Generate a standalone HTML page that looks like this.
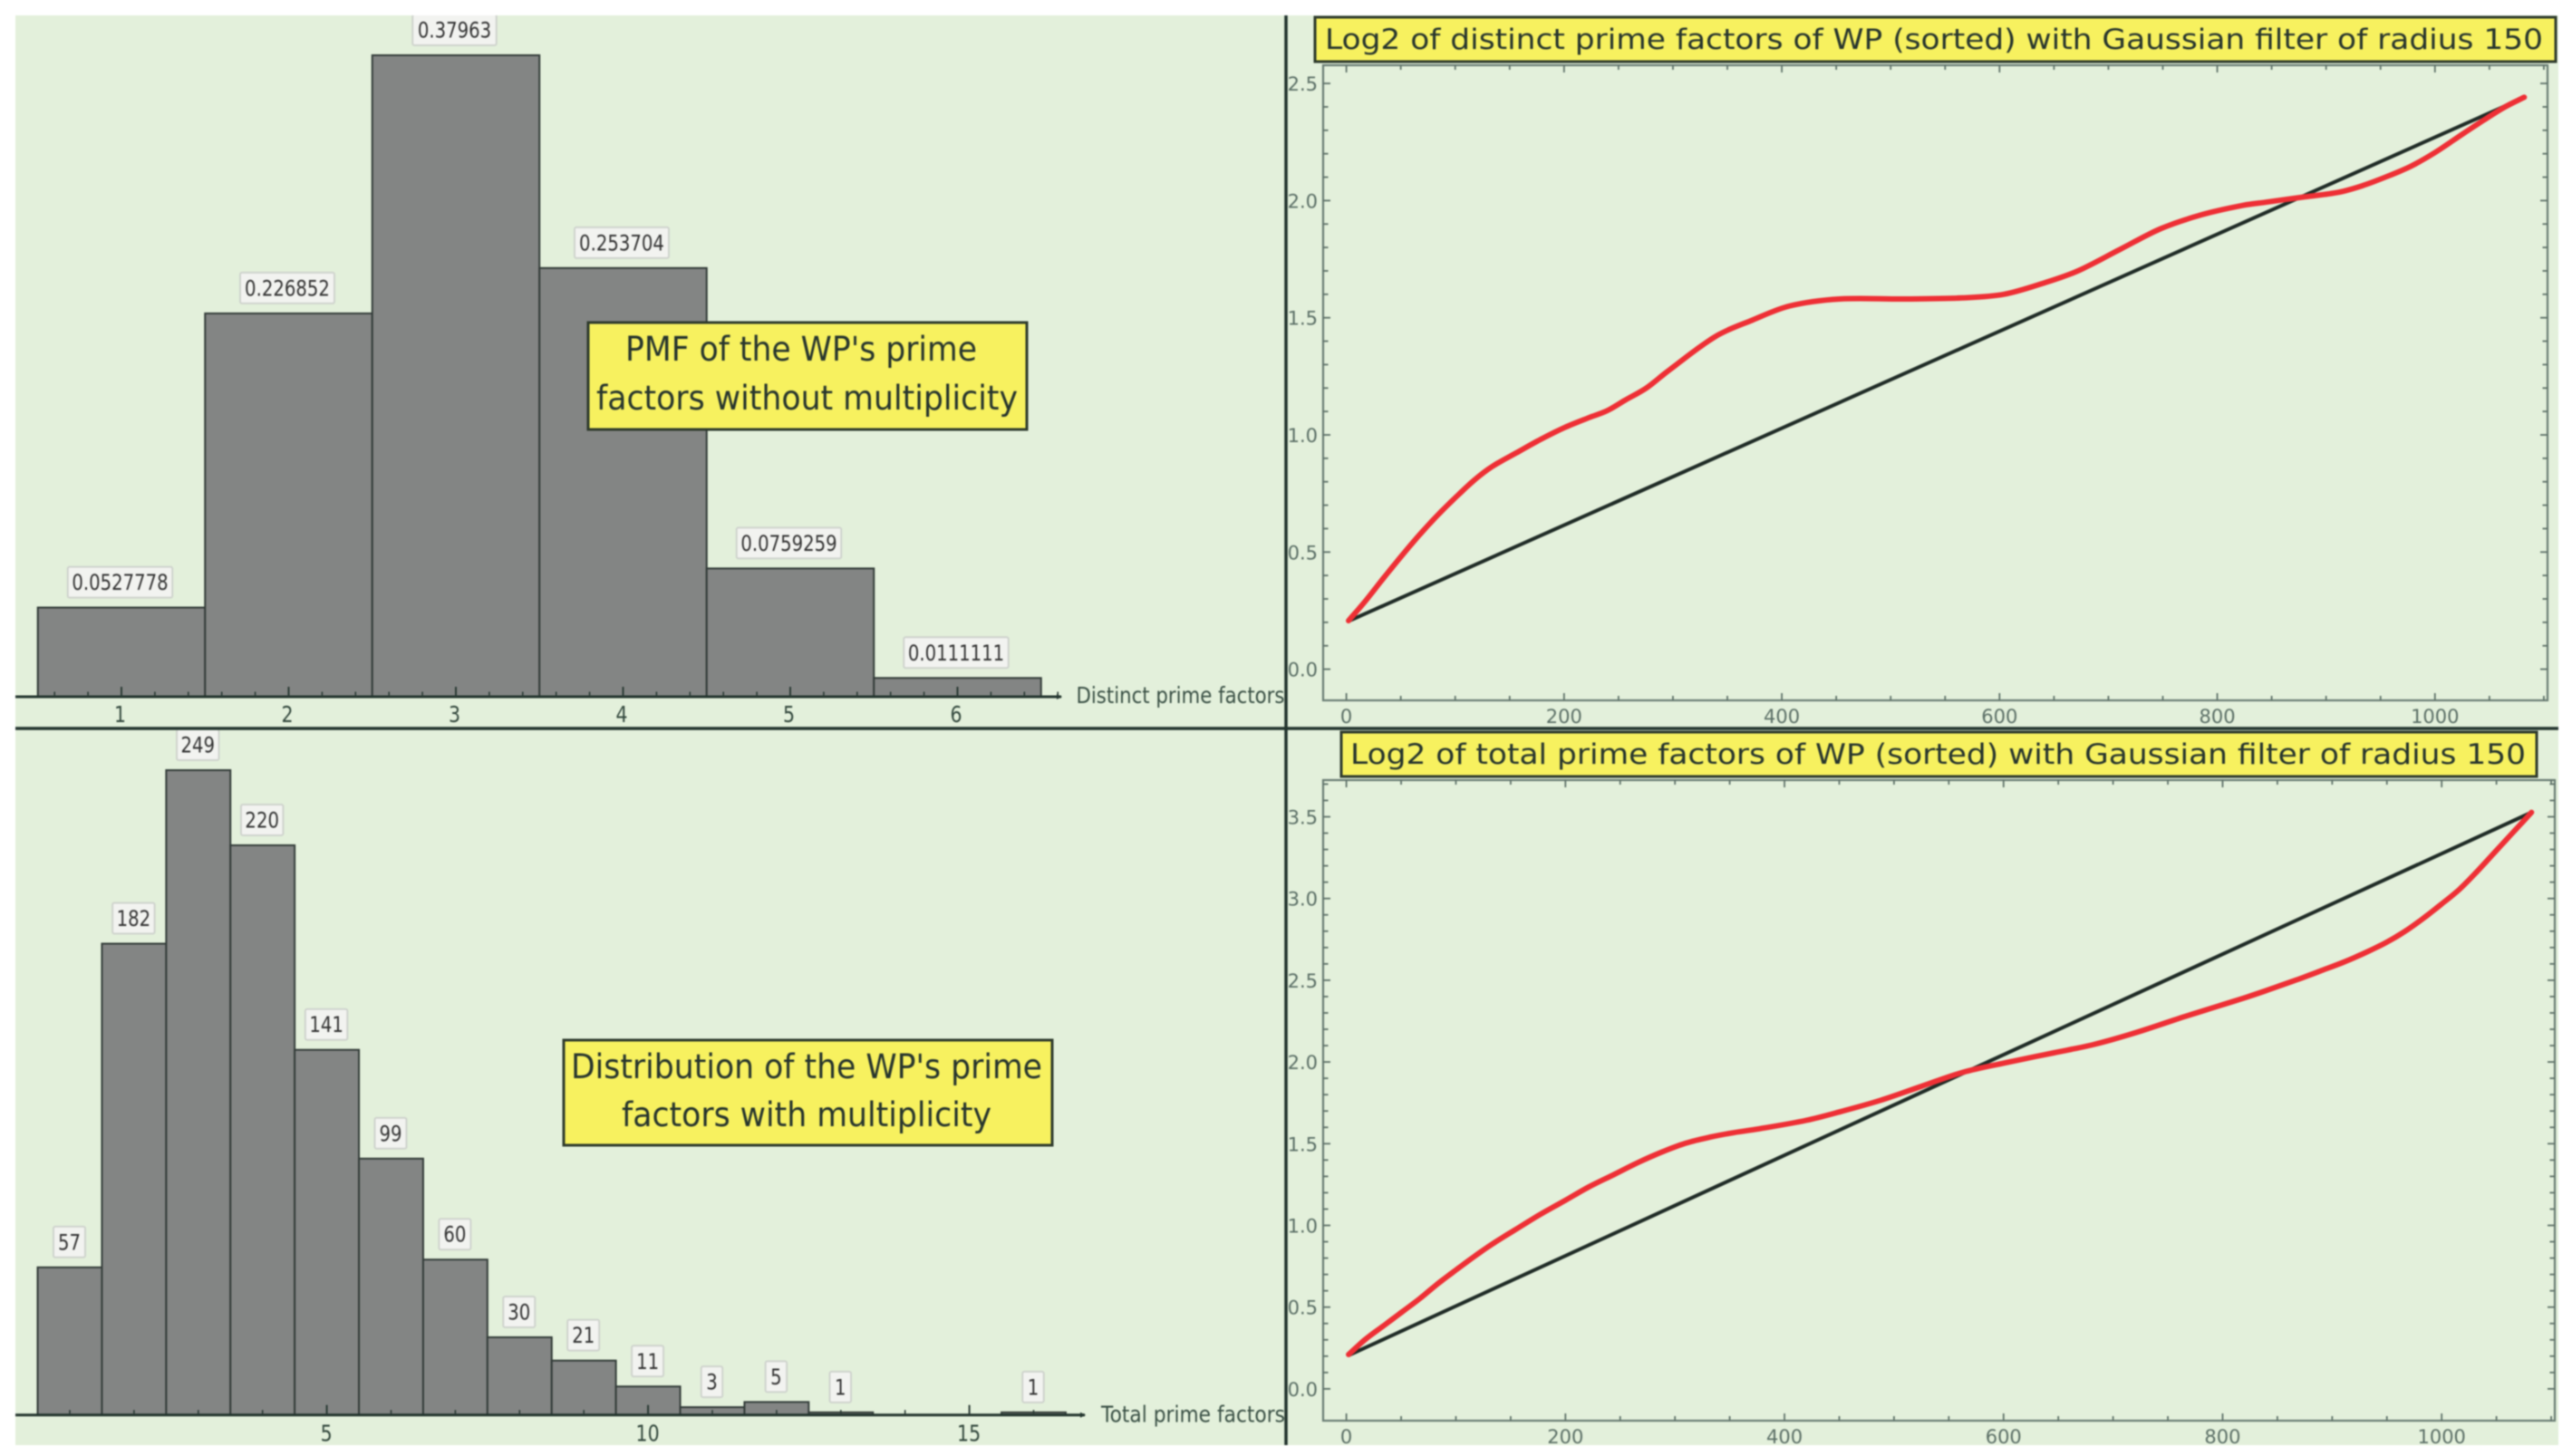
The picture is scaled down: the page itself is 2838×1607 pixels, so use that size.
<!DOCTYPE html>
<html lang="en">
<head>
<meta charset="utf-8">
<title>Prime factor distributions</title>
<style>
html,body{margin:0;padding:0;background:#fff;width:2838px;height:1607px;overflow:hidden}
svg{display:block;filter:blur(0.7px)}
text{font-family:"DejaVu Sans","Liberation Sans",sans-serif}
</style>
</head>
<body>
<svg id="root" xmlns="http://www.w3.org/2000/svg" width="2838" height="1607" viewBox="0 0 2838 1607">
  <defs>
    <clipPath id="clipTop"><rect x="17" y="17" width="1402" height="785"/></clipPath>
    <clipPath id="clipBottom"><rect x="17" y="806" width="1402" height="789"/></clipPath>
  </defs>
  <rect x="17" y="17" width="2806" height="1578" fill="#e3f0db"/>

  <g id="pmfChart" clip-path="url(#clipTop)"></g>
  <g id="totalChart" clip-path="url(#clipBottom)"></g>

  <g>
    <rect x="649" y="356" width="484" height="118" fill="#f7f15f" stroke="#2e3a2c" stroke-width="3"/>
    <text x="690" y="398" font-size="37" fill="#27352d" textLength="388" lengthAdjust="spacingAndGlyphs">PMF of the WP's prime</text>
    <text x="658" y="452" font-size="37" fill="#27352d" textLength="465" lengthAdjust="spacingAndGlyphs">factors without multiplicity</text>
  </g>
  <g>
    <rect x="622" y="1148" width="539" height="116" fill="#f7f15f" stroke="#2e3a2c" stroke-width="3"/>
    <text x="630" y="1190" font-size="37" fill="#27352d" textLength="520" lengthAdjust="spacingAndGlyphs">Distribution of the WP's prime</text>
    <text x="686" y="1243" font-size="37" fill="#27352d" textLength="408" lengthAdjust="spacingAndGlyphs">factors with multiplicity</text>
  </g>

  <g id="distinctChart"></g>
  <g id="totalLineChart"></g>

  <g>
    <rect x="1451" y="19" width="1369" height="49" fill="#f7f15f" stroke="#2e3a2c" stroke-width="3"/>
    <text x="1462" y="54" font-size="31" fill="#27352d" textLength="1344" lengthAdjust="spacingAndGlyphs">Log2 of distinct prime factors of WP (sorted) with Gaussian filter of radius 150</text>
  </g>
  <g>
    <rect x="1480" y="808" width="1319" height="49" fill="#f7f15f" stroke="#2e3a2c" stroke-width="3"/>
    <text x="1490" y="843" font-size="31" fill="#27352d" textLength="1297" lengthAdjust="spacingAndGlyphs">Log2 of total prime factors of WP (sorted) with Gaussian filter of radius 150</text>
  </g>

  <line x1="17" y1="804" x2="2823" y2="804" stroke="#23352e" stroke-width="3.5"/>
  <line x1="1419" y1="17" x2="1419" y2="1595" stroke="#23352e" stroke-width="3.5"/>
</svg>
<script>
/* ---------- data ---------- */
const pmfCategories = [1, 2, 3, 4, 5, 6];
const pmfValues = [0.0527778, 0.226852, 0.37963, 0.253704, 0.0759259, 0.0111111];
const pmfTickLabels = [1, 2, 3, 4, 5, 6];

const totalCategories = [1, 2, 3, 4, 5, 6, 7, 8, 9, 10, 11, 12, 13, 14, 15, 16];
const totalValues = [57, 182, 249, 220, 141, 99, 60, 30, 21, 11, 3, 5, 1, 0, 0, 1];
const totalTickLabels = [5, 10, 15];

const distinctXTicks = [0, 200, 400, 600, 800, 1000];
const distinctYTicks = ['0.0', '0.5', '1.0', '1.5', '2.0', '2.5'];
const distinctSmoothX = [2, 17.5, 34, 51, 67.5, 84, 101, 117.5, 134, 156, 178.5, 200.7, 223, 239.5, 256, 275.6, 295, 339, 373, 407, 453, 513, 566, 604, 642, 672, 710, 748, 786, 824, 844.5, 880.5, 911, 933, 955.5, 978, 1000, 1025, 1044, 1064, 1082];
const distinctSmoothY = [0.207, 0.291, 0.388, 0.485, 0.575, 0.658, 0.736, 0.807, 0.865, 0.923, 0.981, 1.032, 1.074, 1.103, 1.148, 1.2, 1.271, 1.42, 1.49, 1.55, 1.58, 1.58, 1.585, 1.60, 1.65, 1.70, 1.79, 1.88, 1.94, 1.98, 1.993, 2.016, 2.035, 2.063, 2.102, 2.147, 2.205, 2.283, 2.341, 2.399, 2.441];
const distinctRefX = [2, 1082];
const distinctRefY = [0.205, 2.44];

const totalLineXTicks = [0, 200, 400, 600, 800, 1000];
const totalLineYTicks = ['0.0', '0.5', '1.0', '1.5', '2.0', '2.5', '3.0', '3.5'];
const totalSmoothX = [2, 17.4, 34, 50.5, 67, 83.6, 100, 116.8, 133, 155, 177.4, 199.5, 221.5, 243.6, 265.7, 287.7, 309.8, 331.9, 354, 376, 420, 450, 488, 525, 563, 601, 646, 683, 721, 766, 819, 839, 867, 889, 911, 933, 949.7, 966, 982.7, 999.3, 1016, 1032.4, 1049, 1065.5, 1082];
const totalSmoothY = [0.21, 0.303, 0.386, 0.469, 0.552, 0.644, 0.727, 0.81, 0.885, 0.977, 1.069, 1.152, 1.236, 1.309, 1.383, 1.448, 1.503, 1.54, 1.568, 1.59, 1.643, 1.694, 1.766, 1.851, 1.937, 1.994, 2.056, 2.108, 2.18, 2.279, 2.39, 2.435, 2.501, 2.556, 2.612, 2.677, 2.732, 2.797, 2.876, 2.963, 3.055, 3.166, 3.287, 3.407, 3.527];
const totalRefX = [2, 1082];
const totalRefY = [0.205, 3.527];

/* ---------- helpers ---------- */
const NS = 'http://www.w3.org/2000/svg';
function make(tag, parent, props) {
  const el = document.createElementNS(NS, tag);
  for (const k in props) el.setAttribute(k, props[k]);
  parent.appendChild(el);
  return el;
}
/* Cubic Hermite through points with x-aware tangents */
function smoothPath(pts) {
  const n = pts.length;
  const slope = pts.map(function (p, i) {
    const a = pts[Math.max(i - 1, 0)], b = pts[Math.min(i + 1, n - 1)];
    return (b[1] - a[1]) / (b[0] - a[0]);
  });
  let d = 'M' + pts[0][0].toFixed(2) + ' ' + pts[0][1].toFixed(2);
  for (let i = 0; i < n - 1; i++) {
    const p1 = pts[i], p2 = pts[i + 1], dx = p2[0] - p1[0];
    d += 'C' + (p1[0] + dx / 3).toFixed(2) + ' ' + (p1[1] + slope[i] * dx / 3).toFixed(2) + ' ' +
         (p2[0] - dx / 3).toFixed(2) + ' ' + (p2[1] - slope[i + 1] * dx / 3).toFixed(2) + ' ' +
         p2[0].toFixed(2) + ' ' + p2[1].toFixed(2);
  }
  return d;
}

/* ---------- histograms ---------- */
function drawHistogram(cfg) {
  const g = document.getElementById(cfg.id);
  const x = cfg.x, y = cfg.y, base = y(0), half = cfg.barWidth / 2;

  cfg.categories.forEach(function (c, i) {
    const top = y(cfg.values[i]);
    const bar = make('rect', g, { x: x(c) - half, y: top, width: cfg.barWidth, height: base - top, fill: '#838584', stroke: '#333c39', 'stroke-width': 2 });
    
    
  });

  const axis = make('line', g, { x1: 17, y1: base, x2: cfg.axisEnd, y2: base, stroke: '#23352e', 'stroke-width': 3 });
  
  

  const arrow = make('polygon', g, { points: (cfg.axisEnd - 5) + ',' + (base - 3) + ' ' + (cfg.axisEnd + 1) + ',' + base + ' ' + (cfg.axisEnd - 5) + ',' + (base + 3), fill: '#23352e' });
  
  

  for (let t = cfg.tickStart; x(t) < cfg.axisEnd; t += cfg.minorStep) {
    const r = Math.round(t * 1000) / 1000;
    const isMajor = cfg.majors.indexOf(r) >= 0;
    const tick = make('line', g, { x1: x(r), y1: base, x2: x(r), y2: base - (isMajor ? 11 : 5.5), stroke: '#2a3a34', 'stroke-width': isMajor ? 2 : 1.6 });
    
    
  }

  cfg.tickLabels.forEach(function (t) {
    const lab = make('text', g, { transform: 'translate(' + (x(t) + cfg.labelDx) + ',' + (base + cfg.labelDy) + ') scale(0.82,1)', 'text-anchor': 'middle', 'font-size': 25, fill: '#33483d' });
    lab.textContent = t;
    
    
  });

  const title = make('text', g, { x: cfg.titleX, y: base + cfg.titleDy, 'font-size': 25, fill: '#3a5045', textLength: cfg.titleW, lengthAdjust: 'spacingAndGlyphs' });
  title.textContent = cfg.title;
  
  

  cfg.categories.forEach(function (c, i) {
    const v = cfg.values[i];
    if (v === 0) return;
    const s = String(v);
    const w = 12 + s.length * 11.5;
    const top = y(v);
    const cx = x(c) + cfg.labelDx;
    const box = make('rect', g, { x: cx - w / 2, y: top - 45, width: w, height: 34, rx: 2, fill: '#f2f3f0', stroke: '#cfd3cd', 'stroke-width': 2 });
    
    
    const lab = make('text', g, { transform: 'translate(' + cx + ',' + (top - 19.5) + ') scale(0.82,1)', 'text-anchor': 'middle', 'font-size': 24, fill: '#333' });
    lab.textContent = s;
    
    
  });
}

drawHistogram({
  id: 'pmfChart', categories: pmfCategories, values: pmfValues, tickLabels: pmfTickLabels,
  x: function (v) { return 134 + 184.5 * (v - 1); },
  y: function (v) { return 769 - 1865 * v; },
  barWidth: 184.5, axisEnd: 1171, tickStart: 0.6, minorStep: 0.2, majors: pmfTickLabels,
  labelDx: -1.5, labelDy: 28, title: 'Distinct prime factors', titleX: 1187.5, titleDy: 7, titleW: 230
});
drawHistogram({
  id: 'totalChart', categories: totalCategories, values: totalValues, tickLabels: totalTickLabels,
  x: function (v) { return 77 + 70.9 * (v - 1); },
  y: function (v) { return 1561.7 - 2.858 * v; },
  barWidth: 70.9, axisEnd: 1197, tickStart: 1, minorStep: 1, majors: totalTickLabels,
  labelDx: -0.5, labelDy: 29, title: 'Total prime factors', titleX: 1215, titleDy: 8, titleW: 203
});

/* ---------- line charts ---------- */
function drawLineChart(cfg) {
  const g = document.getElementById(cfg.id);
  const x = cfg.x, y = cfg.y, f = cfg.frame;

  const frame = make('rect', g, { x: f.l, y: f.t, width: f.r - f.l, height: f.b - f.t, fill: 'none', stroke: '#6a7d74', 'stroke-width': 2.2 });
  
  

  for (let t = 0; x(t) < f.r; t += 50) {
    const isMajor = cfg.xTicks.indexOf(t) >= 0;
    const len = isMajor ? 8 : 5;
    const bottom = make('line', g, { x1: x(t), y1: f.b, x2: x(t), y2: f.b - len, stroke: '#5f7269', 'stroke-width': 1.8 });
    
    
    const upper = make('line', g, { x1: x(t), y1: f.t, x2: x(t), y2: f.t + len, stroke: '#5f7269', 'stroke-width': 1.8 });
    
    
  }
  for (let k = 0; y(k / 10) > f.t; k++) {
    const t = k / 10;
    const isMajor = k % 5 === 0;
    const len = isMajor ? 8 : 5.5;
    const left = make('line', g, { x1: f.l, y1: y(t), x2: f.l + len, y2: y(t), stroke: '#5f7269', 'stroke-width': 1.8 });
    
    
    const right = make('line', g, { x1: f.r, y1: y(t), x2: f.r - len, y2: y(t), stroke: '#5f7269', 'stroke-width': 1.8 });
    
    
  }

  cfg.xTicks.forEach(function (t) {
    const lab = make('text', g, { x: x(t), y: f.b + 25, 'text-anchor': 'middle', 'font-size': 21, fill: '#5b6f66' });
    lab.textContent = t;
    
    
  });
  cfg.yTicks.forEach(function (t) {
    const lab = make('text', g, { x: 1454, y: y(Number(t)) + 8, 'text-anchor': 'end', 'font-size': 21, fill: '#5b6f66' });
    lab.textContent = t;
    
    
  });

  const ref = make('line', g, { x1: x(cfg.refX[0]), y1: y(cfg.refY[0]), x2: x(cfg.refX[1]), y2: y(cfg.refY[1]), stroke: '#1f2b26', 'stroke-width': 4 });
  
  

  const pts = cfg.smoothX.map(function (v, i) { return [x(v), y(cfg.smoothY[i])]; });
  const curve = make('path', g, { d: smoothPath(pts), fill: 'none', stroke: '#ee2f35', 'stroke-width': 6, 'stroke-linecap': 'round', 'stroke-linejoin': 'round' });
  
  
}

drawLineChart({
  id: 'distinctChart', xTicks: distinctXTicks, yTicks: distinctYTicks,
  smoothX: distinctSmoothX, smoothY: distinctSmoothY, refX: distinctRefX, refY: distinctRefY,
  frame: { l: 1460, r: 2811, t: 72, b: 773 },
  x: function (v) { return 1485.6 + 1.2012 * v; },
  y: function (v) { return 738.6 - 258.6 * v; }
});
drawLineChart({
  id: 'totalLineChart', xTicks: totalLineXTicks, yTicks: totalLineYTicks,
  smoothX: totalSmoothX, smoothY: totalSmoothY, refX: totalRefX, refY: totalRefY,
  frame: { l: 1460, r: 2819, t: 861, b: 1568 },
  x: function (v) { return 1485.6 + 1.2086 * v; },
  y: function (v) { return 1532.9 - 180.4 * v; }
});
</script>
</body>
</html>
